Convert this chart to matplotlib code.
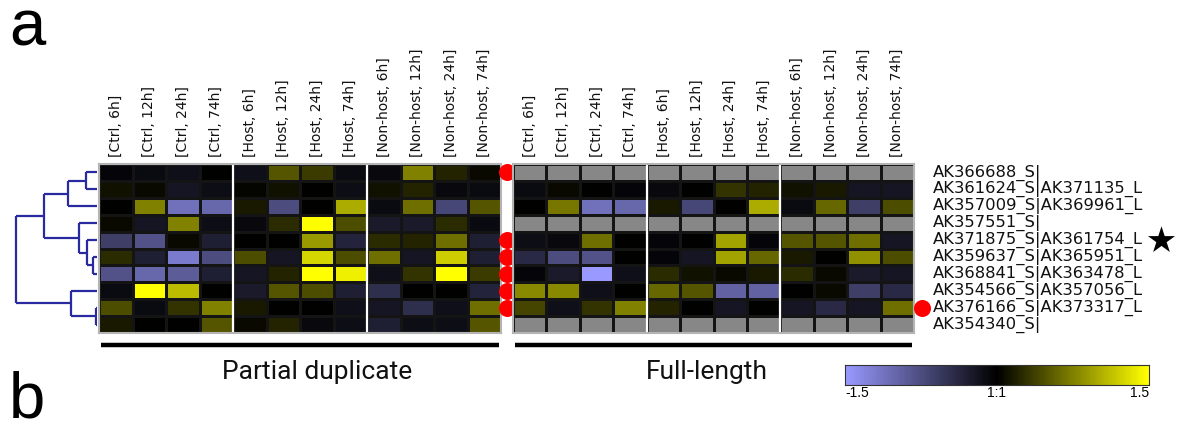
import numpy as np
import matplotlib
matplotlib.use("Agg")
import matplotlib.pyplot as plt
from matplotlib.colors import LinearSegmentedColormap

nan = np.nan

columns = ["[Ctrl, 6h]", "[Ctrl, 12h]", "[Ctrl, 24h]", "[Ctrl, 74h]",
           "[Host, 6h]", "[Host, 12h]", "[Host, 24h]", "[Host, 74h]",
           "[Non-host, 6h]", "[Non-host, 12h]", "[Non-host, 24h]", "[Non-host, 74h]"]

genes = ["AK366688_S|", "AK361624_S|AK371135_L", "AK357009_S|AK369961_L",
         "AK357551_S|", "AK371875_S|AK361754_L", "AK359637_S|AK365951_L",
         "AK368841_S|AK363478_L", "AK354566_S|AK357056_L", "AK376166_S|AK373317_L",
         "AK354340_S|"]

partial = [
    [-0.05, -0.1, -0.15, 0.0, -0.15, 0.5, 0.35, -0.1, -0.08, 0.75, 0.2, 0.05],
    [0.1, 0.05, -0.2, -0.12, 0.03, 0.1, 0.0, -0.12, 0.1, 0.2, -0.08, -0.1],
    [0.0, 0.75, -1.1, -1.0, 0.15, -0.75, 0.0, 1.0, -0.1, 0.65, -0.7, 0.5],
    [0.05, -0.2, 0.75, -0.12, -0.08, 0.25, 1.5, 0.45, -0.25, -0.25, 0.25, -0.1],
    [-0.6, -0.8, 0.05, -0.3, 0.0, 0.0, 0.9, -0.35, 0.25, 0.2, 0.65, -0.3],
    [0.25, -0.3, -1.2, -0.75, 0.45, -0.2, 1.25, 0.45, 0.65, -0.2, 1.2, -0.3],
    [-0.8, -1.0, -0.9, -0.3, -0.2, 0.2, 1.5, 1.4, -0.15, 0.3, 1.5, 0.35],
    [-0.1, 1.5, 1.1, 0.0, -0.25, 0.5, 0.45, -0.3, -0.45, 0.0, 0.0, -0.35],
    [0.45, -0.1, 0.3, 0.75, 0.15, 0.0, 0.0, -0.15, -0.2, -0.45, -0.15, 0.65],
    [0.15, 0.0, 0.0, 0.5, 0.05, 0.2, -0.08, -0.12, -0.3, -0.12, -0.12, 0.5],
]

full = [
    [nan] * 12,
    [-0.1, 0.05, 0.0, -0.05, -0.08, 0.0, 0.3, 0.2, 0.1, 0.15, -0.2, -0.2],
    [0.0, 0.7, -1.1, -1.0, 0.15, -0.7, 0.0, 1.0, -0.1, 0.6, -0.6, 0.45],
    [nan] * 12,
    [-0.12, -0.08, 0.65, 0.0, -0.05, 0.0, 0.95, -0.05, 0.5, 0.5, 0.65, -0.2],
    [-0.4, -0.75, -0.8, 0.0, -0.05, -0.2, 0.95, 0.6, 0.15, 0.0, 0.85, 0.45],
    [-0.05, -0.25, -1.5, -0.15, 0.25, 0.1, 0.05, 0.15, 0.25, 0.05, -0.25, -0.2],
    [0.8, 0.8, -0.15, 0.0, 0.6, 0.5, -0.95, -0.95, 0.0, 0.05, -0.6, -0.4],
    [0.4, -0.15, 0.3, 0.75, 0.2, 0.0, -0.2, 0.0, -0.2, -0.4, -0.2, 0.65],
    [nan] * 12,
]

# dendrogram merges: (left, right, height); new nodes numbered from 10
merges = [(0, 1, 11), (10, 2, 29), (5, 6, 4), (4, 12, 10), (3, 13, 18),
          (11, 14, 53), (8, 9, 1.5), (7, 16, 26), (15, 17, 81)]

left_dots = [0, 4, 5, 6, 7, 8]
right_dots = [8]
star_row = 4

W, H = 1178, 425
fig = plt.figure(figsize=(W / 100, H / 100), dpi=100)


def box(x0, y0, x1, y1):
    return fig.add_axes([x0 / W, 1 - y1 / H, (x1 - x0) / W, (y1 - y0) / H])


cmap = LinearSegmentedColormap.from_list("by", [(0.6, 0.6, 1.0), (0, 0, 0), (1, 1, 0)])
cmap.set_bad("#878787")

nrow, ncol = len(genes), len(columns)
label_font = "DejaVu Sans"


def heat(ax, data):
    m = np.ma.masked_invalid(np.array(data, dtype=float))
    ax.pcolormesh(np.arange(ncol + 1), np.arange(nrow + 1), m, cmap=cmap,
                  vmin=-1.5, vmax=1.5, edgecolors="#141414", linewidth=1.0)
    ax.set_xlim(0, ncol)
    ax.set_ylim(nrow, 0)
    for x in (4, 8):
        ax.axvline(x, color="white", lw=1.6)
    ax.set_xticks([])
    ax.set_yticks([])
    for s in ax.spines.values():
        s.set_color("#b4b4b4")
        s.set_linewidth(1.5)
    for j, c in enumerate(columns):
        ax.text(j + 0.5, -0.42, c, rotation=90, ha="center", va="bottom",
                fontsize=10, family=label_font, color="#111111")
    ax.plot([0.05, ncol - 0.05], [10.7, 10.7], color="black", lw=3.2,
            clip_on=False, solid_capstyle="butt")


axL = box(99, 164, 501, 333)
heat(axL, partial)
axR = box(513, 164, 914, 333)
heat(axR, full)

axL.text(6.5, 12.3, "Partial duplicate", ha="center", va="center",
         fontsize=19, family="Roboto", color="#111111")
axR.text(5.8, 12.3, "Full-length", ha="center", va="center",
         fontsize=19, family="Roboto", color="#111111")

for i, g in enumerate(genes):
    axR.text(12.57, i + 0.5, g, ha="left", va="center", fontsize=11.8,
             family=label_font, color="#111111")

axL.scatter([12.18] * len(left_dots), np.array(left_dots) + 0.5, s=150,
            color="red", clip_on=False, zorder=5, linewidths=0)
axR.scatter([12.25] * len(right_dots), np.array(right_dots) + 0.5, s=150,
            color="red", clip_on=False, zorder=5, linewidths=0)
axR.scatter([19.4], [star_row + 0.5], marker="*", s=420, color="black",
            clip_on=False, zorder=5, linewidths=0)

# dendrogram
axD = box(0, 164, 97, 333)
axD.set_xlim(97, 0)
axD.set_ylim(nrow, 0)
axD.axis("off")
pos = {i: i + 0.5 for i in range(nrow)}
hgt = {i: 0.0 for i in range(nrow)}
for k, (a, b, h) in enumerate(merges):
    node = nrow + k
    for c in (a, b):
        axD.plot([hgt[c], h], [pos[c], pos[c]], color="#2a2aa0", lw=1.6,
                 solid_capstyle="butt")
    axD.plot([h, h], [pos[a], pos[b]], color="#2a2aa0", lw=1.6,
             solid_capstyle="butt")
    pos[node] = (pos[a] + pos[b]) / 2
    hgt[node] = h

# colour scale
axC = box(845, 365, 1149, 385)
grad = np.linspace(-1.5, 1.5, 300)[None, :]
axC.imshow(grad, cmap=cmap, vmin=-1.5, vmax=1.5, aspect="auto",
           extent=[-1.5, 1.5, 0, 1])
axC.set_yticks([])
axC.set_xticks([-1.5, 0, 1.5])
labs = axC.set_xticklabels(["-1.5", "1:1", "1.5"], fontsize=10,
                           family="Liberation Sans")
labs[0].set_ha("left")
labs[2].set_ha("right")
axC.tick_params(axis="x", length=0, pad=1)
for s in axC.spines.values():
    s.set_color("#333333")
    s.set_linewidth(0.8)

fig.text(9 / W, 1 - 45 / H, "a", fontsize=47, family="Liberation Sans",
         va="baseline", ha="left")
fig.text(9 / W, 1 - 418 / H, "b", fontsize=47, family="Liberation Sans",
         va="baseline", ha="left")

fig.savefig("out.png", dpi=100)
